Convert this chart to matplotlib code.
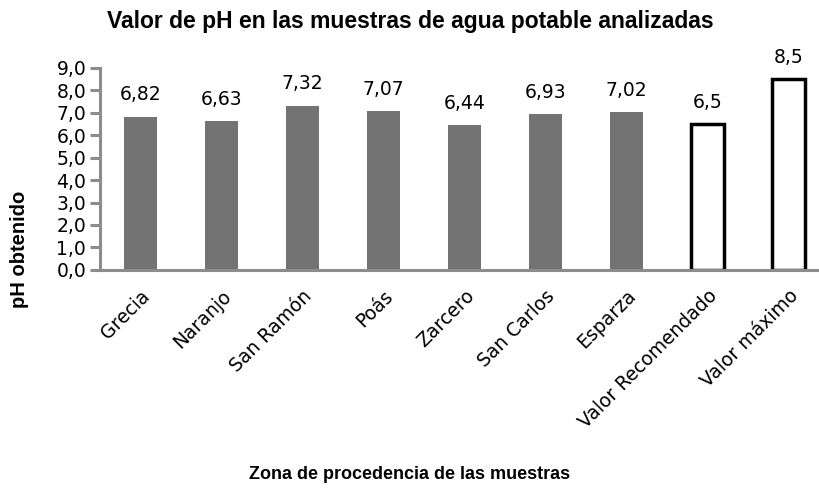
import matplotlib
matplotlib.use("Agg")
import matplotlib.pyplot as plt
import numpy as np

# Datos del grafico
zonas = ["Grecia", "Naranjo", "San Ramón", "Poás", "Zarcero", "San Carlos",
         "Esparza", "Valor Recomendado", "Valor máximo"]
ph = [6.82, 6.63, 7.32, 7.07, 6.44, 6.93, 7.02, 6.5, 8.5]
etiquetas = ["6,82", "6,63", "7,32", "7,07", "6,44", "6,93", "7,02", "6,5", "8,5"]
es_referencia = [False, False, False, False, False, False, False, True, True]
yticks = np.arange(0, 10, 1)

fig = plt.figure(figsize=(8.2, 4.88), dpi=100)
ax = fig.add_axes([0.122, 0.447, 0.878, 0.414])

x = np.arange(len(zonas))
for i in range(len(zonas)):
    if es_referencia[i]:
        ax.bar(x[i], ph[i], 0.4, color='white', edgecolor='black', linewidth=2.5)
    else:
        ax.bar(x[i], ph[i], 0.4, color='#737373', edgecolor='#737373', linewidth=0)
    ax.text(x[i], ph[i] + 0.55, etiquetas[i], ha='center', va='bottom',
            fontsize=13.5, family='DejaVu Sans', color='black')

ax.set_xlim(-0.5, 8.39)
ax.set_ylim(0, 9)
ax.set_yticks(yticks)
ax.set_yticklabels([f"{v:.1f}".replace('.', ',') for v in yticks],
                   fontsize=13.5, family='DejaVu Sans')
ax.set_xticks(x)
ax.set_xticklabels(zonas, rotation=45, ha='right', rotation_mode='anchor',
                   fontsize=13.5, family='DejaVu Sans')

for s in ['top', 'right']:
    ax.spines[s].set_visible(False)
for s in ['left', 'bottom']:
    ax.spines[s].set_color('#8c8c8c')
    ax.spines[s].set_linewidth(2.2)
ax.tick_params(axis='y', direction='out', length=7, width=2.2, color='#8c8c8c', pad=3)
ax.tick_params(axis='x', length=0, pad=12)

fig.text(0.5, 0.955, "Valor de pH en las muestras de agua potable analizadas",
         ha='center', va='center', fontsize=16.5, fontweight='bold', family='Liberation Sans')
fig.text(0.5, 0.027, "Zona de procedencia de las muestras",
         ha='center', va='center', fontsize=13, fontweight='bold', family='Liberation Sans')
fig.text(0.024, 0.49, "pH obtenido", rotation=90,
         ha='center', va='center', fontsize=14.5, fontweight='bold', family='Liberation Sans')

fig.savefig("out.png", dpi=100)
